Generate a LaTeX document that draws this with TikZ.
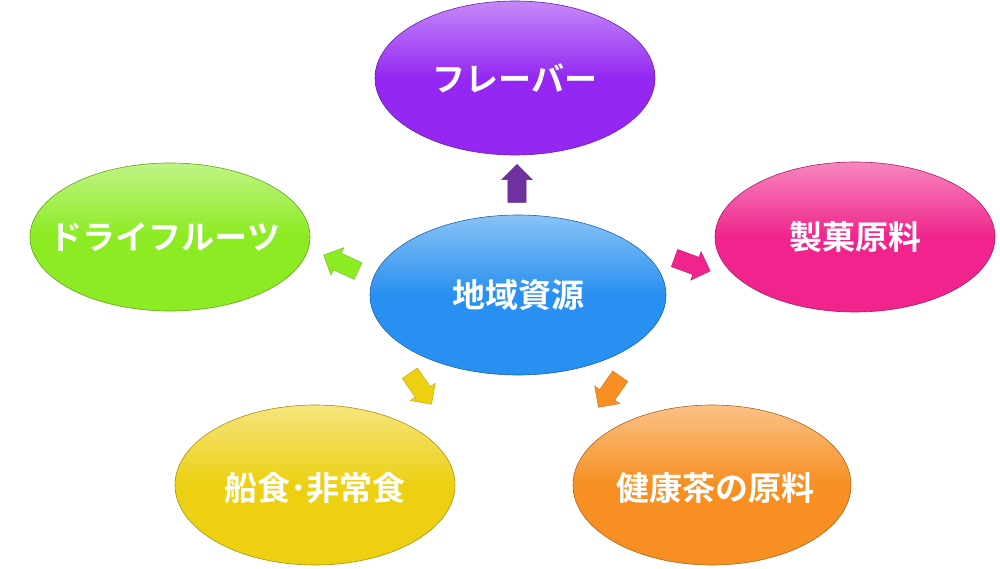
\documentclass[tikz,border=0pt]{standalone}
\usepackage{fontspec}
\newfontfamily\jp{Noto Sans CJK JP Bold}
\usetikzlibrary{shapes.arrows,shapes.geometric}
\definecolor{cpur}{HTML}{9428F2}
\definecolor{cgrn}{HTML}{8CEB22}
\definecolor{cpnk}{HTML}{F0248C}
\definecolor{cblu}{HTML}{2890F0}
\definecolor{cyel}{HTML}{EDD012}
\definecolor{corg}{HTML}{F78F22}
\definecolor{cpurd}{HTML}{7030A0}
\tikzset{
 blob/.style={ellipse,inner sep=0pt,top color=#1!55!white,bottom color=#1,middle color=#1,draw=#1!70!black,line width=0.6pt},
 lbl/.style={text=white,font=\jp\fontsize{33}{33}\selectfont},
 arr/.style={single arrow,single arrow head extend=6pt,minimum height=38pt,inner sep=0pt,text width=0pt,text height=9pt,text depth=9pt,fill=#1,draw=#1!80!black}
}
\begin{document}
\begin{tikzpicture}[x=1pt,y=-1pt]
\useasboundingbox (0,0) rectangle (1000,569);
\path[blob=cpur] (515,78) ellipse [x radius=140,y radius=77];
\path[blob=cgrn] (170,237) ellipse [x radius=140,y radius=74];
\path[blob=cpnk] (855,237) ellipse [x radius=140,y radius=75];
\path[blob=cblu] (518,295) ellipse [x radius=148,y radius=80];
\path[blob=cyel] (315,485) ellipse [x radius=140,y radius=80];
\path[blob=corg] (712,485) ellipse [x radius=139,y radius=80];
\node[lbl] (top) at (515,78) {フレーバー};
\node[lbl] (lft) at (165,237) {ドライフルーツ};
\node[lbl] (rgt) at (855,237) {製菓原料};
\node[lbl] (ctr) at (518,295) {地域資源};
\node[lbl] (bl) at (315,488) {船食･非常食};
\node[lbl] (br) at (715,488) {健康茶の原料};
\node[arr=cpurd,rotate=90] (a1) at (517,188) {};
\node[arr=cgrn,rotate=155] (a2) at (345,265) {};
\node[arr=cpnk,rotate=-20] (a3) at (688,263) {};
\node[arr=cyel,rotate=-55] (a4) at (418,385) {};
\node[arr=corg,rotate=-125] (a5) at (612,388) {};
\end{tikzpicture}
\end{document}
